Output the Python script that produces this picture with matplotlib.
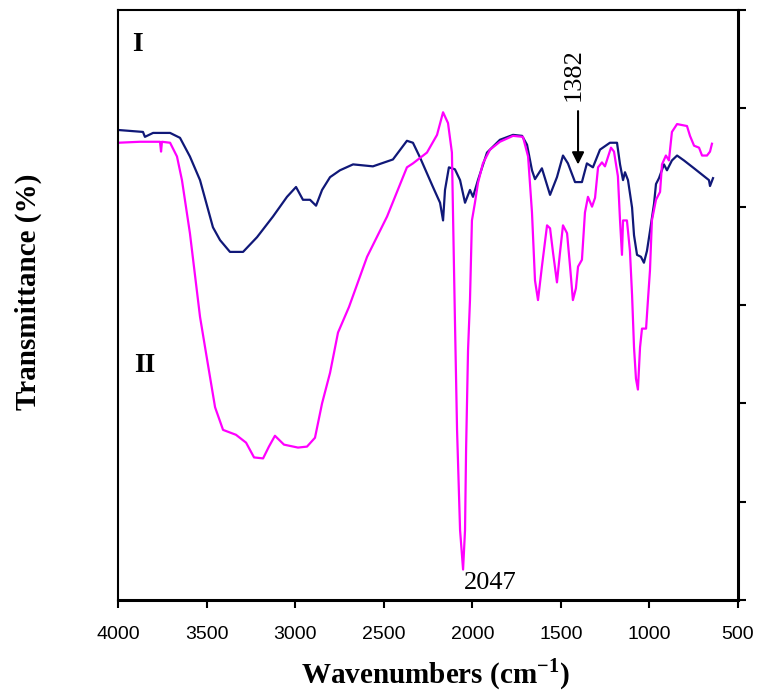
#!/usr/bin/env python3
"""FTIR spectra of samples I and II."""

import matplotlib
matplotlib.use("Agg")
import matplotlib.pyplot as plt

# curve I (navy), wavenumber (cm-1) and transmittance (arb. units)
wn_1 = [4000, 3859, 3848, 3802, 3706, 3650, 3594, 3537, 3464, 3424, 3368, 3294,
        3215, 3125, 3046, 2995, 2956, 2916, 2882, 2848, 2803, 2747, 2673, 2561,
        2448, 2369, 2335, 2295, 2222, 2182, 2165, 2154, 2132, 2098, 2069, 2041,
        2013, 1996, 1968, 1917, 1844, 1770, 1719, 1691, 1663, 1646, 1607, 1561,
        1522, 1488, 1460, 1420, 1381, 1353, 1319, 1279, 1223, 1183, 1166, 1149,
        1138, 1121, 1098, 1087, 1070, 1048, 1031, 1014, 997, 974, 963, 946,
        918, 901, 873, 844, 805, 748, 692, 664, 658, 641]
tr_1 = [47.8, 47.6, 47.1, 47.5, 47.5, 47.0, 45.1, 42.7, 37.9, 36.6, 35.4, 35.4,
        36.9, 39.0, 41.0, 42.0, 40.7, 40.7, 40.1, 41.7, 43.0, 43.7, 44.3, 44.1,
        44.8, 46.7, 46.5, 45.0, 42.0, 40.4, 38.6, 41.7, 44.0, 43.8, 42.7, 40.4,
        41.7, 41.0, 42.7, 45.5, 46.8, 47.3, 47.2, 46.3, 43.7, 42.8, 43.9, 41.2,
        43.0, 45.2, 44.4, 42.5, 42.5, 44.4, 44.0, 45.8, 46.5, 46.5, 44.3, 42.7,
        43.5, 42.7, 39.9, 37.1, 35.1, 34.9, 34.3, 35.5, 37.5, 40.3, 42.3, 42.9,
        44.3, 43.7, 44.7, 45.2, 44.7, 43.9, 43.1, 42.7, 42.1, 42.9]

# curve II (magenta)
wn_2 = [4000, 3876, 3763, 3757, 3752, 3706, 3667, 3639, 3594, 3537, 3503, 3452,
        3407, 3334, 3277, 3232, 3181, 3148, 3114, 3063, 2984, 2933, 2888, 2848,
        2803, 2758, 2696, 2594, 2481, 2369, 2335, 2256, 2199, 2165, 2137, 2115,
        2098, 2086, 2069, 2052, 2041, 2035, 2024, 2013, 2002, 1985, 1968, 1940,
        1900, 1844, 1770, 1714, 1685, 1663, 1646, 1629, 1607, 1578, 1561, 1544,
        1522, 1505, 1488, 1465, 1448, 1432, 1415, 1403, 1381, 1364, 1347, 1324,
        1307, 1290, 1268, 1251, 1217, 1200, 1178, 1166, 1155, 1149, 1127, 1110,
        1098, 1087, 1076, 1065, 1053, 1042, 1019, 1008, 997, 986, 963, 940,
        929, 907, 890, 873, 844, 788, 771, 748, 720, 703, 675, 658, 647]
tr_2 = [46.5, 46.6, 46.6, 45.6, 46.6, 46.5, 45.1, 42.7, 37.3, 28.8, 25.1, 19.6,
        17.3, 16.8, 16.0, 14.5, 14.4, 15.6, 16.7, 15.8, 15.5, 15.6, 16.5, 20.0,
        23.1, 27.2, 29.8, 34.9, 39.0, 44.0, 44.4, 45.5, 47.3, 49.6, 48.5, 45.5,
        28.5, 17.3, 7.1, 3.1, 7.1, 15.3, 25.4, 30.5, 38.6, 40.4, 42.4, 44.4,
        45.8, 46.6, 47.2, 47.1, 45.1, 39.4, 32.5, 30.5, 33.9, 38.1, 37.8, 35.3,
        32.3, 35.3, 38.1, 37.3, 33.9, 30.5, 31.7, 33.9, 34.6, 39.4, 41.0, 40.0,
        40.9, 44.0, 44.5, 44.1, 46.0, 45.6, 43.1, 38.6, 35.1, 38.6, 38.6, 35.5,
        31.0, 25.7, 22.5, 21.4, 25.7, 27.6, 27.6, 30.6, 33.5, 38.6, 40.7, 41.5,
        44.3, 45.2, 44.7, 47.6, 48.4, 48.2, 47.2, 46.2, 46.0, 45.2, 45.2, 45.6, 46.4]

x_ticks = [4000, 3500, 3000, 2500, 2000, 1500, 1000, 500]

serif = ["Liberation Serif", "DejaVu Serif"]
plt.rcParams["mathtext.fontset"] = "custom"
plt.rcParams["mathtext.rm"] = "Liberation Serif:bold"
plt.rcParams["mathtext.bf"] = "Liberation Serif:bold"

fig = plt.figure(figsize=(7.59, 6.94), dpi=100)
ax = fig.add_axes([118 / 759, 1 - 600 / 694, 620 / 759, 590 / 694])

ax.plot(wn_1, tr_1, color="#101878", linewidth=1.6)
ax.plot(wn_2, tr_2, color="#ff00ff", linewidth=1.6)

ax.set_xlim(4000, 500)
ax.set_ylim(0, 60)
ax.set_xticks(x_ticks)
ax.set_xticklabels([str(t) for t in x_ticks], fontsize=14,
                   family=["Liberation Sans", "DejaVu Sans"])
ax.set_yticks(range(0, 61, 10))
ax.yaxis.tick_right()
ax.tick_params(axis="y", direction="out", length=6, width=1.5, labelright=False)
ax.tick_params(axis="x", direction="out", length=6, width=1.5, pad=13)

for side in ["left", "top"]:
    ax.spines[side].set_linewidth(1.5)
for side in ["right", "bottom"]:
    ax.spines[side].set_linewidth(2.2)

fig.text(435 / 759, 1 - 674 / 694, "Wavenumbers (cm$^{-1}$)", fontsize=21,
         fontweight="bold", family=serif, ha="center", va="center")
fig.text(28 / 759, 1 - 292 / 694, "Transmittance (%)", rotation=90, fontsize=21,
         fontweight="bold", family=serif, ha="center", va="center")

ax.text(3890, 56.5, "I", fontsize=20, fontweight="bold", family=serif,
        ha="center", va="center")
ax.text(3850, 23.8, "II", fontsize=20, fontweight="bold", family=serif,
        ha="center", va="center")
ax.text(1900, 1.7, "2047", fontsize=19, family=serif, ha="center", va="center")
ax.text(1425, 53.4, "1382", fontsize=19, family=serif, rotation=90,
        ha="center", va="center")
ax.annotate("", xy=(1403, 44.0), xytext=(1403, 50.0),
            arrowprops=dict(arrowstyle="-|>", color="black", lw=1.5,
                            mutation_scale=18))

fig.savefig("out.png", dpi=100)
